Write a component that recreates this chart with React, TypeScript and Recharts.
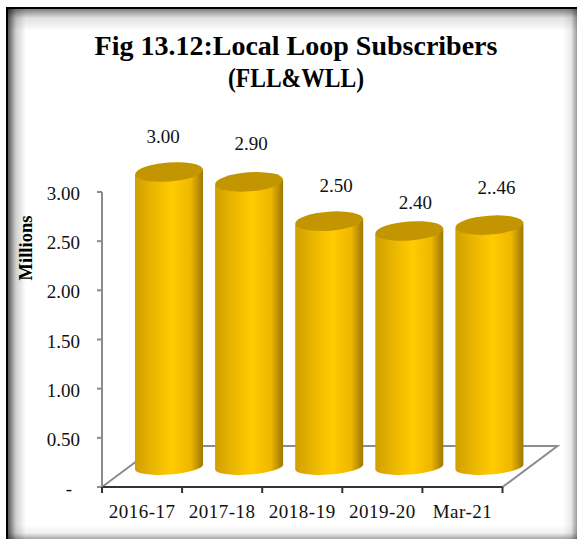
import { BarChart, Bar, XAxis, YAxis, LabelList } from 'recharts';

const categories = ['2016-17', '2017-18', '2018-19', '2019-20', 'Mar-21'];
const subscribers = [3.0, 2.9, 2.5, 2.4, 2.46];
const valueLabels = ['3.00', '2.90', '2.50', '2.40', '2..46'];
const yTicks = [0, 0.5, 1, 1.5, 2, 2.5, 3];

const data = categories.map((name, i) => ({
  name,
  subscribers: subscribers[i],
  label: valueLabels[i],
}));

const WIDTH = 577;
const HEIGHT = 539;
const PLOT_LEFT = 102;
const PLOT_RIGHT = 502.5;
const PLOT_TOP = 192;
const PLOT_BOTTOM = 487;
const X_AXIS_HEIGHT = 30;
const BAND = (PLOT_RIGHT - PLOT_LEFT) / categories.length;

// fake 3D depth: cylinders stand mid-way back on the floor
const DEPTH_X = 55;
const DEPTH_Y = 41;
const BAR_DX = 27;
const BAR_DY = -20;
const BAR_WIDTH = 68;
const LID_RY = 9.5;
const BASE_RY = 7.5;
const TILT = 4.2;

// the value labels were placed by hand, so each has its own nudge from the lid centre
const labelNudge = [
  [-6, -36],
  [2, -38],
  [7, -36],
  [6, -29],
  [7, -38],
];

const FONT = '"Liberation Serif", serif';
const INK = '#111';

const Cylinder = (props: any) => {
  const { x, y, width, height } = props;
  const cx = x + width / 2 + BAR_DX;
  const rx = width / 2;
  const topY = y + BAR_DY;
  const bottomY = y + height + BAR_DY;
  const lift = rx * Math.sin((TILT * Math.PI) / 180);
  const side =
    `M${cx - rx},${topY + lift} L${cx - rx},${bottomY + lift} ` +
    `A${rx},${BASE_RY} ${-TILT} 0 0 ${cx + rx},${bottomY - lift} ` +
    `L${cx + rx},${topY - lift} Z`;
  return (
    <g>
      <path d={side} fill="url(#cylinderSide)" />
      <ellipse
        cx={cx}
        cy={topY}
        rx={rx}
        ry={LID_RY}
        fill="#C39500"
        transform={`rotate(${-TILT} ${cx} ${topY})`}
      />
    </g>
  );
};

const ValueLabel = (props: any) => {
  const { x, y, width, index, value } = props;
  const [nx, ny] = labelNudge[index];
  return (
    <text
      x={x + width / 2 + BAR_DX + nx}
      y={y + BAR_DY + ny}
      textAnchor="middle"
      dominantBaseline="central"
      fontFamily={FONT}
      fontSize={19}
      fill={INK}
    >
      {value}
    </text>
  );
};

// ticks sit on the band edges, the label stays on the band centre
const CategoryTick = (props: any) => {
  const { x, payload, index } = props;
  const left = x - BAND / 2;
  return (
    <g>
      <line x1={left} x2={left} y1={PLOT_BOTTOM} y2={PLOT_BOTTOM + 6} stroke="#333" strokeWidth={2} />
      {index === categories.length - 1 && (
        <line x1={left + BAND} x2={left + BAND} y1={PLOT_BOTTOM} y2={PLOT_BOTTOM + 6} stroke="#333" strokeWidth={2} />
      )}
      <text
        x={x}
        y={PLOT_BOTTOM + 24}
        textAnchor="middle"
        dominantBaseline="central"
        fontFamily={FONT}
        fontSize={19}
        letterSpacing={0.5}
        fill={INK}
      >
        {payload.value}
      </text>
    </g>
  );
};

const ValueTick = (props: any) => {
  const { x, y, payload } = props;
  const zero = payload.value === 0;
  return (
    <text
      x={zero ? x - 8 : x}
      y={y + 1.5}
      textAnchor="end"
      dominantBaseline="central"
      fontFamily={FONT}
      fontSize={19}
      fill={INK}
    >
      {zero ? '-' : payload.value.toFixed(2)}
    </text>
  );
};

export default function App() {
  return (
    <div style={{ position: 'fixed', left: 0, top: 0, width: WIDTH, height: HEIGHT, background: '#fff', overflow: 'hidden' }}>
      {/* framed panel runs off the right and bottom edges, shaded along all four sides */}
      <div
        style={{
          position: 'absolute',
          left: 6,
          top: 7,
          width: WIDTH - 6,
          height: HEIGHT - 7,
          boxSizing: 'border-box',
          borderLeft: '2px solid #000',
          borderTop: '2px solid #000',
          background: [
            'linear-gradient(180deg, rgba(0,0,0,0.5), rgba(0,0,0,0.12) 9px, transparent 22px)',
            'linear-gradient(90deg, rgba(0,0,0,0.65), rgba(0,0,0,0.18) 8px, transparent 18px)',
            'linear-gradient(270deg, rgba(0,0,0,0.4), rgba(0,0,0,0.08) 6px, transparent 14px)',
            'linear-gradient(0deg, rgba(0,0,0,0.35), rgba(0,0,0,0.06) 6px, transparent 14px)',
          ].join(', '),
        }}
      />

      <div style={{ position: 'absolute', left: 0, top: 0 }}>
        <BarChart
          width={WIDTH}
          height={HEIGHT}
          data={data}
          barSize={BAR_WIDTH}
          margin={{ top: PLOT_TOP, right: WIDTH - PLOT_RIGHT, bottom: HEIGHT - PLOT_BOTTOM - X_AXIS_HEIGHT, left: 40 }}
        >
          <defs>
            <linearGradient id="cylinderSide" x1="0" x2="1" y1="0" y2="0">
              <stop offset="0" stopColor="#CFA000" />
              <stop offset="0.3" stopColor="#EDB900" />
              <stop offset="0.55" stopColor="#FFCB00" />
              <stop offset="0.82" stopColor="#EFB700" />
              <stop offset="1" stopColor="#9C7700" />
            </linearGradient>
          </defs>

          <polyline
            points={`${PLOT_LEFT},${PLOT_BOTTOM} ${PLOT_LEFT + DEPTH_X},${PLOT_BOTTOM - DEPTH_Y} ${PLOT_RIGHT + DEPTH_X},${PLOT_BOTTOM - DEPTH_Y} ${PLOT_RIGHT},${PLOT_BOTTOM}`}
            fill="none"
            stroke="#8C8C8C"
            strokeWidth={2}
          />

          <text x={296} y={45} textAnchor="middle" dominantBaseline="central" fontFamily={FONT} fontWeight="bold" fontSize={28} fill="#000">
            Fig 13.12:Local Loop Subscribers
          </text>
          <text
            x={296}
            y={78}
            textAnchor="middle"
            dominantBaseline="central"
            fontFamily={FONT}
            fontWeight="bold"
            fontSize={27}
            fill="#000"
            textLength={136}
            lengthAdjust="spacingAndGlyphs"
          >
            (FLL&amp;WLL)
          </text>
          <text
            x={26}
            y={248}
            textAnchor="middle"
            dominantBaseline="central"
            fontFamily={FONT}
            fontWeight="bold"
            fontSize={18.5}
            fill="#000"
            transform="rotate(-90 26 248)"
          >
            Millions
          </text>

          <XAxis
            dataKey="name"
            height={X_AXIS_HEIGHT}
            tick={<CategoryTick />}
            tickLine={false}
            axisLine={{ stroke: '#333', strokeWidth: 2 }}
            interval={0}
          />
          <YAxis
            width={62}
            domain={[0, 3]}
            ticks={yTicks}
            tick={<ValueTick />}
            tickSize={5}
            tickMargin={17}
            tickLine={{ stroke: '#8C8C8C', strokeWidth: 2 }}
            axisLine={{ stroke: '#8C8C8C', strokeWidth: 2 }}
          />
          <Bar dataKey="subscribers" shape={<Cylinder />} isAnimationActive={false}>
            <LabelList dataKey="label" content={<ValueLabel />} />
          </Bar>
        </BarChart>
      </div>
    </div>
  );
}
